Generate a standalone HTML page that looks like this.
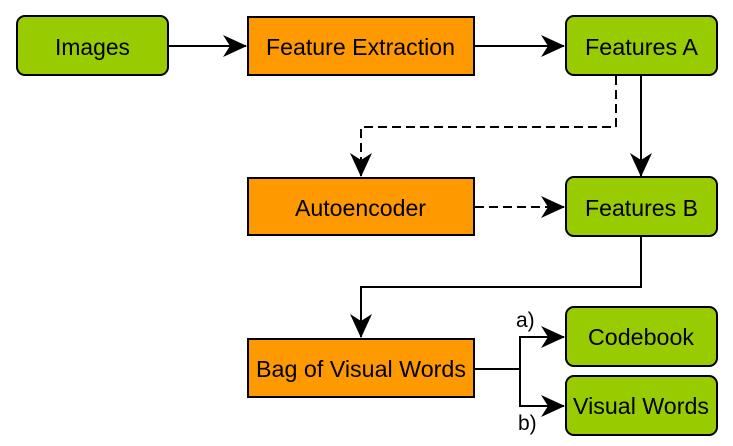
<!DOCTYPE html>
<html><head><meta charset="utf-8"><style>
html,body{margin:0;padding:0;background:#fff;}
svg{display:block;}
text{font-family:"Liberation Sans",sans-serif;font-size:23px;fill:#000;}
</style></head><body>
<svg width="733" height="446" viewBox="0 0 733 446" xmlns="http://www.w3.org/2000/svg">
<defs>
<marker id="ar" markerWidth="26" markerHeight="24" refX="23" refY="11" orient="auto" markerUnits="userSpaceOnUse" overflow="visible">
<path d="M0,0 L24,11 L0,22 L7,11 Z" fill="#000"/>
</marker>
</defs>
<g stroke="#000" stroke-width="2" fill="none">
<line x1="168" y1="46" x2="246" y2="46" marker-end="url(#ar)"/>
<line x1="475" y1="46" x2="564" y2="46" marker-end="url(#ar)"/>
<polyline points="616,76 616,127 361,127 361,176" stroke-dasharray="9,5" marker-end="url(#ar)"/>
<line x1="641" y1="76" x2="641" y2="176" marker-end="url(#ar)"/>
<line x1="475" y1="207" x2="564" y2="207" stroke-dasharray="9,5" marker-end="url(#ar)"/>
<polyline points="641,237 641,287 361,287 361,337" marker-end="url(#ar)"/>
<polyline points="475,369 520,369 520,337 564,337" marker-end="url(#ar)"/>
<polyline points="520,369 520,406 564,406" marker-end="url(#ar)"/>
</g>
<g stroke="#000" stroke-width="2">
<rect x="17" y="16" width="151" height="59" rx="8" fill="#99cc00"/>
<rect x="248" y="17" width="226" height="58" fill="#ff9900"/>
<rect x="566" y="16" width="151" height="59" rx="8" fill="#99cc00"/>
<rect x="248" y="178" width="226" height="57" fill="#ff9900"/>
<rect x="566" y="177" width="151" height="59" rx="8" fill="#99cc00"/>
<rect x="248" y="339" width="226" height="58" fill="#ff9900"/>
<rect x="566" y="307" width="151" height="59" rx="8" fill="#99cc00"/>
<rect x="566" y="376" width="151" height="59" rx="8" fill="#99cc00"/>
</g>
<text x="55" y="55" textLength="75" lengthAdjust="spacingAndGlyphs">Images</text>
<text x="266" y="55" textLength="189" lengthAdjust="spacingAndGlyphs">Feature Extraction</text>
<text x="585" y="55" textLength="113" lengthAdjust="spacingAndGlyphs">Features A</text>
<text x="295" y="216" textLength="131" lengthAdjust="spacingAndGlyphs">Autoencoder</text>
<text x="585" y="216" textLength="113" lengthAdjust="spacingAndGlyphs">Features B</text>
<text x="256" y="377" textLength="210" lengthAdjust="spacingAndGlyphs">Bag of Visual Words</text>
<text x="588" y="345" textLength="106" lengthAdjust="spacingAndGlyphs">Codebook</text>
<text x="573" y="414" textLength="136" lengthAdjust="spacingAndGlyphs">Visual Words</text>
<text x="516" y="327" style="font-size:21px">a)</text>
<text x="518" y="430" style="font-size:21px">b)</text>
</svg>
</body></html>
